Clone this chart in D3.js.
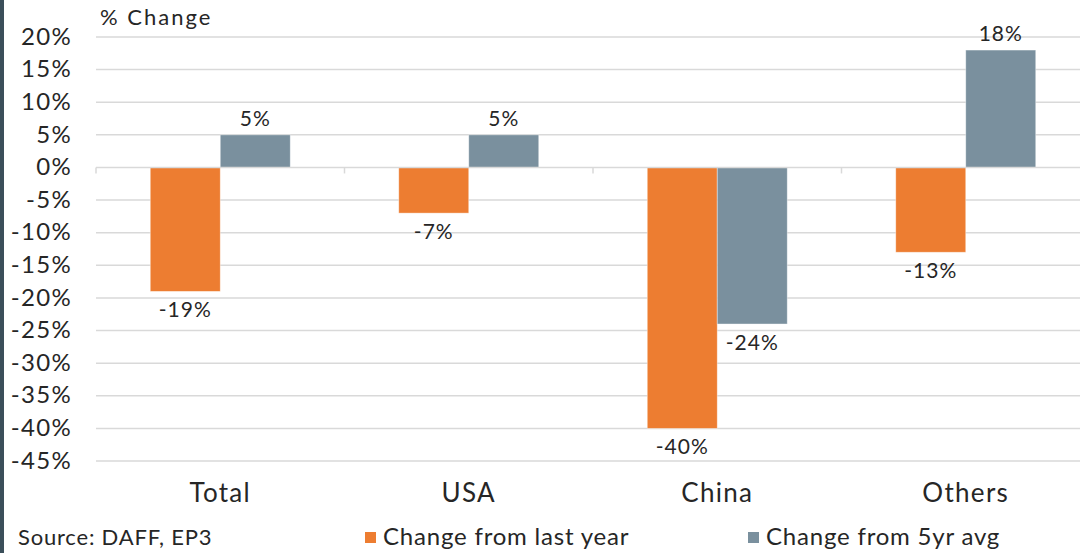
<!DOCTYPE html>
<html>
<head>
<meta charset="utf-8">
<script src="https://cdn.jsdelivr.net/npm/d3@7"></script>
<style>
html,body{margin:0;padding:0;background:#fff;}
svg{display:block;}
text{font-family:Lato, "Open Sans", sans-serif; fill:#262626;}
</style>
</head>
<body>
<svg id="chart" width="1080" height="553"></svg>
<script>
const categories = ["Total", "USA", "China", "Others"];
const seriesNames = ["Change from last year", "Change from 5yr avg"];
const lastYear = [-19, -7, -40, -13];
const fiveYrAvg = [5, 5, -24, 18];
const yTicks = [20, 15, 10, 5, 0, -5, -10, -15, -20, -25, -30, -35, -40, -45];
const colors = ["#ED7D31", "#7A909E"];

const svg = d3.select("#chart");
const W = 1080, H = 553;
svg.append("rect").attr("width", W).attr("height", H).attr("fill", "#fff");

const y = d3.scaleLinear().domain([-45, 20]).range([461, 37]);
const x = d3.scaleBand().domain(categories).range([96, 1090]).padding(0);
const groupW = 140;
const xs = d3.scaleBand().domain(seriesNames).range([0, groupW]).padding(0);

// gridlines
svg.append("g").selectAll("line").data(yTicks.filter(d => d !== 0)).join("line")
  .attr("x1", 96).attr("x2", 1080)
  .attr("y1", d => y(d)).attr("y2", d => y(d))
  .attr("stroke", "#d9d9d9").attr("stroke-width", 1.5);

// y axis labels
const yAxis = d3.axisLeft(y).tickValues(yTicks).tickSize(0).tickPadding(0)
  .tickFormat(d => d + "%");
const yg = svg.append("g").attr("transform", "translate(72,0)").call(yAxis);
yg.select(".domain").remove();
yg.selectAll("text").attr("font-size", 24).attr("font-family", "Lato, sans-serif")
  .attr("fill", "#262626").attr("letter-spacing", "1.3px").attr("dy", "0.3em");

// bars
const data = [];
categories.forEach((c, i) => {
  data.push({cat: c, s: seriesNames[0], v: lastYear[i], k: 0});
  data.push({cat: c, s: seriesNames[1], v: fiveYrAvg[i], k: 1});
});
const off = (x.bandwidth() - groupW) / 2;
svg.append("g").selectAll("rect").data(data).join("rect")
  .attr("x", d => x(d.cat) + off + xs(d.s))
  .attr("width", xs.bandwidth())
  .attr("y", d => y(Math.max(0, d.v)))
  .attr("height", d => Math.abs(y(d.v) - y(0)))
  .attr("fill", d => colors[d.k])
  .attr("stroke", "#fff").attr("stroke-opacity", 0.5).attr("stroke-width", 0.8);

// zero axis with ticks
const zg = svg.append("g").attr("transform", `translate(0,${y(0)})`);
zg.append("line").attr("x1", 96).attr("x2", 1080).attr("stroke", "#d9d9d9").attr("stroke-width", 1.5);
zg.selectAll("line.tk").data(categories.map(c => x(c)).concat([x.range()[1]]))
  .join("line").attr("class", "tk")
  .attr("x1", d => d).attr("x2", d => d).attr("y1", 0).attr("y2", 6)
  .attr("stroke", "#d9d9d9").attr("stroke-width", 1.5);

// value labels
svg.append("g").selectAll("text").data(data).join("text")
  .attr("x", d => x(d.cat) + off + xs(d.s) + xs.bandwidth() / 2)
  .attr("y", d => d.v >= 0 ? y(d.v) - 9 : y(d.v) + 26)
  .attr("text-anchor", "middle").attr("font-size", 21).attr("letter-spacing", "1px")
  .text(d => d.v + "%");

// category labels
svg.append("g").selectAll("text").data(categories).join("text")
  .attr("x", d => x(d) + x.bandwidth() / 2).attr("y", 502)
  .attr("text-anchor", "middle").attr("font-size", 26).attr("letter-spacing", "1.3px")
  .text(d => d);

// title
svg.append("text").attr("x", 100).attr("y", 25).attr("font-size", 22).attr("letter-spacing", "2px").text("% Change");

// source
svg.append("text").attr("x", 18).attr("y", 545).attr("font-size", 22).attr("letter-spacing", "0.8px").text("Source: DAFF, EP3");

// legend
const legX = [365, 748];
seriesNames.forEach((s, i) => {
  svg.append("rect").attr("x", legX[i]).attr("y", 532).attr("width", 11).attr("height", 11).attr("fill", colors[i]);
  svg.append("text").attr("x", legX[i] + 18).attr("y", 545).attr("font-size", 24).attr("letter-spacing", "0.8px").text(s);
});

// left dark frame edge
svg.append("rect").attr("x", 0).attr("y", 0).attr("width", 4).attr("height", H).attr("fill", "#3b4f5a");
</script>
</body>
</html>
